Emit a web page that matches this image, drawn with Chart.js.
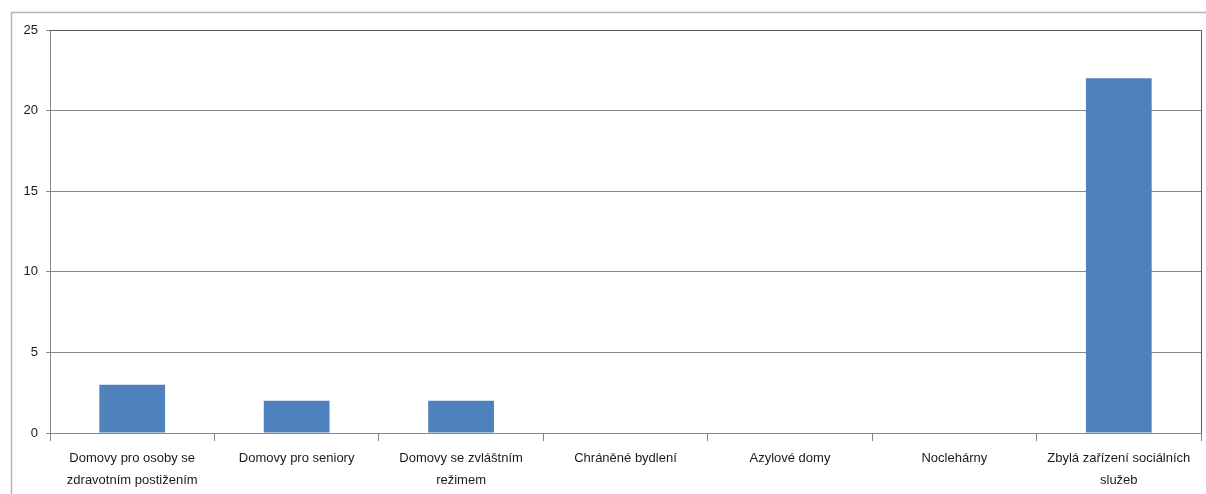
<!DOCTYPE html>
<html><head><meta charset="utf-8">
<script src="https://cdn.jsdelivr.net/npm/chart.js@4"></script>
<style>html,body{margin:0;padding:0;background:#fff;}#wrap{width:1206px;height:494px;}</style>
</head><body><div id="wrap"><canvas id="c" width="1206" height="494"></canvas></div>
<script>
const categories = [
  ["Domovy pro osoby se", "zdravotním postižením"],
  ["Domovy pro seniory"],
  ["Domovy se zvláštním", "režimem"],
  ["Chráněné bydlení"],
  ["Azylové domy"],
  ["Noclehárny"],
  ["Zbylá zařízení sociálních", "služeb"]
];
const values = [3, 2, 2, 0, 0, 0, 22];
const yTicks = [0, 5, 10, 15, 20, 25];

const frame = {
  id: 'frame',
  beforeDraw(chart) {
    const ctx = chart.ctx;
    ctx.save();
    ctx.fillStyle = '#fff';
    ctx.fillRect(0, 0, chart.width, chart.height);
    ctx.strokeStyle = '#b4b4b4';
    ctx.lineWidth = 1.5;
    ctx.strokeRect(11.5, 12.5, 1206, 500);
    ctx.restore();
  },
  afterDraw(chart) {
    const a = chart.chartArea, ctx = chart.ctx;
    ctx.save();
    ctx.strokeStyle = '#595959';
    ctx.lineWidth = 1;
    ctx.beginPath();
    ctx.moveTo(a.left, a.top + 0.5);
    ctx.lineTo(a.right + 0.5, a.top + 0.5);
    ctx.lineTo(a.right + 0.5, a.bottom);
    ctx.stroke();
    ctx.restore();
  }
};

new Chart(document.getElementById('c'), {
  type: 'bar',
  data: {
    labels: categories,
    datasets: [{
      data: values,
      backgroundColor: '#4F81BD',
      borderWidth: 0,
      categoryPercentage: 0.4,
      barPercentage: 1
    }]
  },
  plugins: [frame],
  options: {
    responsive: false,
    animation: false,
    devicePixelRatio: 1,
    layout: { padding: { top: 30, right: 5, left: 0, bottom: 0 } },
    plugins: { legend: { display: false }, tooltip: { enabled: false } },
    scales: {
      x: {
        grid: { offset: true, drawOnChartArea: false, drawTicks: true, tickLength: 8, color: '#868686' },
        border: { color: '#868686' },
        ticks: { color: '#1a1a1a', padding: 6, maxRotation: 0, autoSkip: false,
                 font: { family: 'Liberation Sans', size: 13, lineHeight: 1.7 } },
        afterFit(s) { s.height = 61; }
      },
      y: {
        min: 0, max: 25,
        afterBuildTicks(s) { s.ticks = yTicks.map(v => ({ value: v })); },
        grid: { color: '#868686', tickLength: 4 },
        border: { color: '#868686' },
        ticks: { color: '#1a1a1a', padding: 8, font: { family: 'Liberation Sans', size: 13 } },
        afterFit(s) { s.width = 50; }
      }
    }
  }
});
</script></body></html>
